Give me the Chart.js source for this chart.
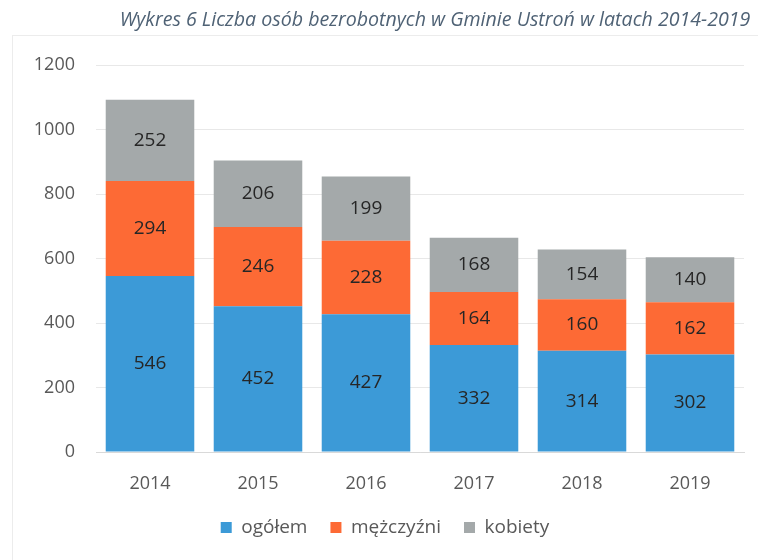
<!DOCTYPE html>
<html><head><meta charset="utf-8">
<script src="https://cdn.jsdelivr.net/npm/chart.js@4"></script>
<style>html,body{margin:0;padding:0;background:#fff;}#wrap{width:758px;height:560px;}</style>
</head><body><div id="wrap"><canvas id="c" width="758" height="560"></canvas></div>
<script>
const years = ['2014','2015','2016','2017','2018','2019'];
const ogolem = [546,452,427,332,314,302];
const mezczyzni = [294,246,228,164,160,162];
const kobiety = [252,206,199,168,154,140];
const yTicks = [0,200,400,600,800,1000,1200];
const seriesNames = ['ogółem','mężczyźni','kobiety'];
const titleText = 'Wykres 6 Liczba osób bezrobotnych w Gminie Ustroń w latach 2014-2019';

const FONT = '"Open Sans", sans-serif';

const labelPlugin = {
  id:'vals',
  afterDatasetsDraw(chart){
    const ctx = chart.ctx;
    ctx.save();
    ctx.font = '19px ' + FONT;
    ctx.fillStyle = '#262626';
    ctx.textAlign='center'; ctx.textBaseline='middle';
    chart.data.datasets.forEach((ds,i)=>{
      chart.getDatasetMeta(i).data.forEach((bar,j)=>{
        const y = (bar.y + bar.base)/2;
        ctx.fillText(String(ds.data[j]), bar.x, y);
      });
    });
    ctx.restore();
  },
  afterDraw(chart){
    const ctx = chart.ctx;
    ctx.save();
    ctx.font = 'italic 19.6px ' + FONT;
    ctx.fillStyle = '#4f6275';
    ctx.textAlign='center'; ctx.textBaseline='middle';
    ctx.fillText(titleText, 435, 20);
    ctx.strokeStyle = '#ececec'; ctx.lineWidth=1;
    ctx.strokeRect(12.5, 35.5, 760, 540);
    ctx.restore();
  }
};

new Chart(document.getElementById('c'), {
  type:'bar',
  data:{
    labels: years,
    datasets:[
      {label:seriesNames[0], data:ogolem, backgroundColor:'#3c9ad7'},
      {label:seriesNames[1], data:mezczyzni, backgroundColor:'#fd6a35'},
      {label:seriesNames[2], data:kobiety, backgroundColor:'#a4a9aa'}
    ]
  },
  options:{
    responsive:false, animation:false,
    layout:{padding:{top:65,right:14,left:26,bottom:13}},
    datasets:{bar:{categoryPercentage:0.82,barPercentage:1}},
    plugins:{
      legend:{position:'bottom', labels:{font:{family:FONT,size:19}, color:'#595959', boxWidth:11, boxHeight:11, padding:23}},
      tooltip:{enabled:false}, title:{display:false}
    },
    scales:{
      x:{stacked:true, grid:{display:false, drawTicks:false}, border:{color:'#d9d9d9'},
         afterFit(s){s.height=43;},
         ticks:{font:{family:FONT,size:18}, color:'#595959', padding:21}},
      y:{stacked:true, min:0, max:1200,
         afterFit(s){s.width=70;},
         afterBuildTicks(s){s.ticks = yTicks.map(v=>({value:v}));},
         grid:{color:'#e8e8e8', drawTicks:false}, border:{display:false},
         ticks:{font:{family:FONT,size:18}, color:'#595959', padding:21, callback:(v)=>String(v)}}
    }
  },
  plugins:[labelPlugin]
});
</script></body></html>
